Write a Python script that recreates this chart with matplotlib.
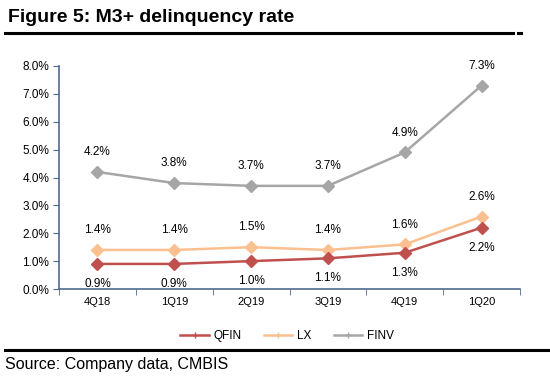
import matplotlib.pyplot as plt
from matplotlib.lines import Line2D

plt.rcParams['font.family'] = ['Liberation Sans', 'DejaVu Sans']

quarters = ["4Q18", "1Q19", "2Q19", "3Q19", "4Q19", "1Q20"]
qfin = [0.9, 0.9, 1.0, 1.1, 1.3, 2.2]
lx = [1.4, 1.4, 1.5, 1.4, 1.6, 2.6]
finv = [4.2, 3.8, 3.7, 3.7, 4.9, 7.3]

colors = {"QFIN": "#c0504d", "LX": "#fac090", "FINV": "#a6a6a6"}
spine_col = "#4f6a8f"

fig = plt.figure(figsize=(5.5, 3.77), dpi=100)
ax = fig.add_axes([59 / 550, 1 - 289 / 377, 461 / 550, 223 / 377])

x = list(range(len(quarters)))
for name, vals in [("FINV", finv), ("LX", lx), ("QFIN", qfin)]:
    ax.plot(x, vals, color=colors[name], lw=1.8, marker="D", ms=6, zorder=3)

# data labels
for i, v in enumerate(finv):
    ax.annotate(f"{v:.1f}%", (i, v), xytext=(0, 10), textcoords="offset points",
                ha="center", va="bottom", fontsize=8.5)
for i, v in enumerate(lx):
    ax.annotate(f"{v:.1f}%", (i, v), xytext=(0, 10), textcoords="offset points",
                ha="center", va="bottom", fontsize=8.5)
for i, v in enumerate(qfin):
    ax.annotate(f"{v:.1f}%", (i, v), xytext=(0, -10), textcoords="offset points",
                ha="center", va="top", fontsize=8.5)

ax.set_xlim(-0.5, len(quarters) - 0.5)
ax.set_ylim(0, 8)
ax.set_yticks([0, 1, 2, 3, 4, 5, 6, 7, 8])
ax.set_yticklabels([f"{t:.1f}%" for t in range(9)], fontsize=8.5)
ax.set_xticks(x)
ax.set_xticklabels(quarters, fontsize=8)
ax.tick_params(axis="x", which="major", length=0, pad=6)
ax.set_xticks([i - 0.5 for i in range(len(quarters) + 1)], minor=True)
ax.tick_params(axis="x", which="minor", length=4, direction="out", color=spine_col)
ax.tick_params(axis="y", length=4, direction="out", color=spine_col, pad=3)

for s in ["top", "right"]:
    ax.spines[s].set_visible(False)
for s in ["left", "bottom"]:
    ax.spines[s].set_color(spine_col)
    ax.spines[s].set_linewidth(1.2)

handles = [Line2D([0], [0], color=colors[n], lw=1.8, marker="+", ms=4) for n in ["QFIN", "LX", "FINV"]]
fig.legend(handles, ["QFIN", "LX", "FINV"], loc="center", bbox_to_anchor=(0.522, 1 - 336 / 377),
           ncol=3, frameon=False, fontsize=8.5, handlelength=2.4, columnspacing=1.9, handletextpad=0.4)

# title and rules
fig.text(8 / 550, 1 - 18 / 377, "Figure 5: M3+ delinquency rate", fontsize=14, fontweight="bold",
         va="center", ha="left")
fig.add_artist(Line2D([5 / 550, 513 / 550], [1 - 33 / 377] * 2, color="black", lw=2.2))
fig.add_artist(Line2D([518 / 550, 521 / 550], [1 - 33 / 377] * 2, color="black", lw=2.2))
fig.add_artist(Line2D([5 / 550, 1.0], [1 - 350 / 377] * 2, color="black", lw=2.2))
fig.text(5 / 550, 1 - 365 / 377, "Source: Company data, CMBIS", fontsize=11.5, va="center", ha="left")

fig.savefig("out.png", dpi=100, facecolor="white")
